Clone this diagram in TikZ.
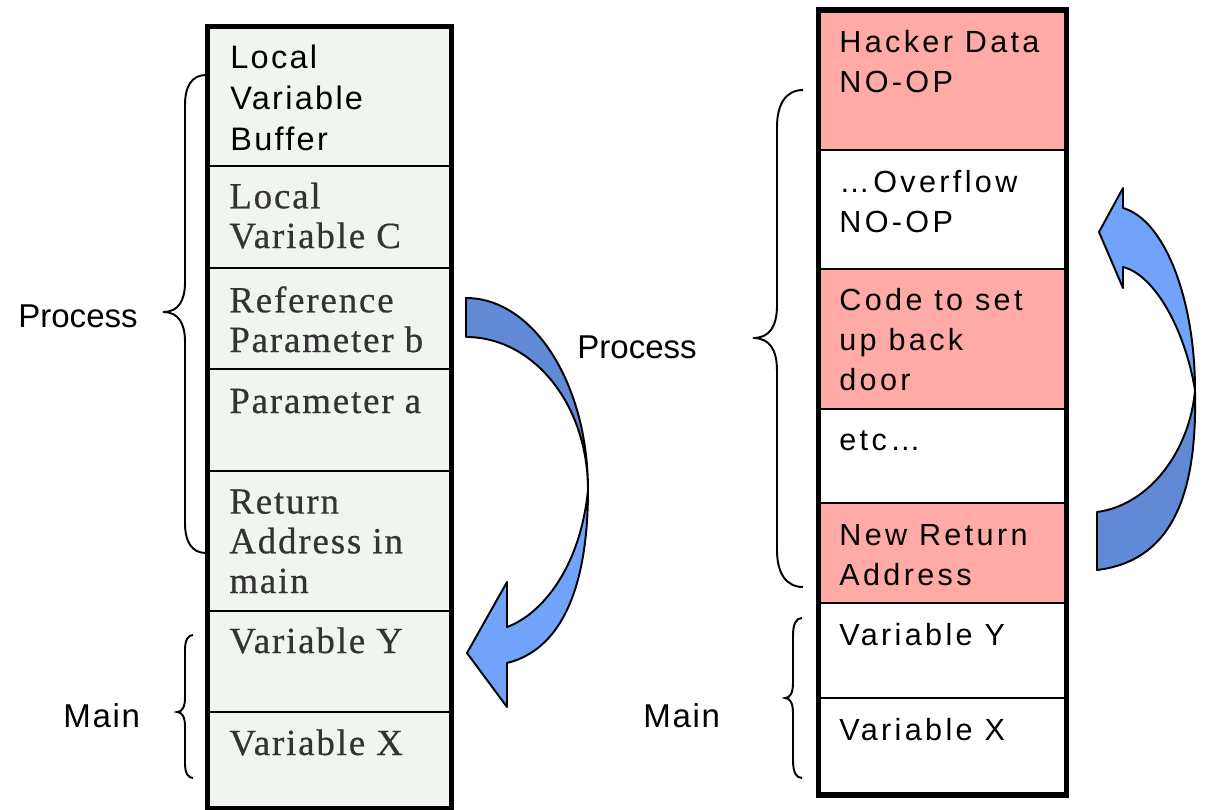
\documentclass[tikz,border=0pt]{standalone}
\usepackage{fontspec}
\setmainfont{Liberation Sans}
\newfontfamily\stacksans[LetterSpace=7]{Liberation Sans}
\newfontfamily\hacksans[LetterSpace=11]{Liberation Sans}
\newfontfamily\oldserif[LetterSpace=5,FakeBold=0.5]{Liberation Serif}
\newfontfamily\labelsans[LetterSpace=5]{Liberation Sans}
\usetikzlibrary{fit}
\definecolor{stackbg}{HTML}{F1F5EF}
\definecolor{hackpink}{HTML}{FFAAA6}
\definecolor{arrowdark}{HTML}{6189D6}
\definecolor{arrowlight}{HTML}{70A3F9}
\definecolor{serifgray}{HTML}{333333}

\begin{document}
\begin{tikzpicture}[x=0.02cm,y=-0.02cm,
  cell/.style={draw=black, line width=1.1pt, inner sep=0pt, rectangle},
  oldcell/.style={cell, fill=stackbg},
  pinkcell/.style={cell, fill=hackpink},
  whitecell/.style={cell, fill=white},
  frame/.style={draw=black, line width=2.9pt},
  brace/.style={draw=black, line width=1.1pt},
  blockarrow/.style={draw=black, line width=1.1pt, line join=round},
  % multi-line texts are placed by the baseline of their last line
  sanstxt/.style={anchor=base west, inner sep=0pt, align=left,
    font=\stacksans\fontsize{18.5}{23.3}\selectfont},
  seriftxt/.style={anchor=base west, inner sep=0pt, align=left, text=serifgray,
    font=\oldserif\fontsize{21}{22.6}\selectfont},
  hacktxt/.style={anchor=base west, inner sep=0pt, align=left,
    font=\hacksans\fontsize{17.4}{22.5}\selectfont},
  sidelabel/.style={anchor=base west, inner sep=0pt, font=\fontsize{18.8}{22}\selectfont},
  mainlabel/.style={anchor=base west, inner sep=0pt, font=\labelsans\fontsize{18.8}{22}\selectfont}
]
\useasboundingbox (0,0) rectangle (1205,809);

% ---------- normal call stack ----------
\node[oldcell, fit={(208.5,27.5) (450.5,166)}] (l1) {};
\node[oldcell, fit={(208.5,166) (450.5,268)}] (l2) {};
\node[oldcell, fit={(208.5,268) (450.5,369)}] (l3) {};
\node[oldcell, fit={(208.5,369) (450.5,471)}] (l4) {};
\node[oldcell, fit={(208.5,471) (450.5,611)}] (l5) {};
\node[oldcell, fit={(208.5,611) (450.5,712)}] (l6) {};
\node[oldcell, fit={(208.5,712) (450.5,808)}] (l7) {};
\draw[frame] (l1.north west) rectangle (l7.south east);

\node[sanstxt] (lt1) at (230,150) {Local\\Variable\\Buffer};
\node[seriftxt] (lt2) at (229,248) {Local\\Variable C};
\node[seriftxt] (lt3) at (229,352) {Reference\\Parameter b};
\node[seriftxt] (lt4) at (229,413) {Parameter a};
\node[seriftxt] (lt5) at (229,593) {Return\\Address in\\main};
\node[seriftxt] (lt6) at (229,653) {Variable Y};
\node[seriftxt] (lt7) at (229,755) {Variable X};

% braces of the normal stack
\draw[brace] (206,75) .. controls (192,75) and (185,86) .. (185,105)
  -- (185,282) .. controls (185,300) and (179,312) .. (163,312)
  .. controls (179,312) and (185,324) .. (185,342)
  -- (185,523) .. controls (185,542) and (192,553) .. (206,553);
\draw[brace] (193,635) .. controls (188,635) and (185,640) .. (185,650)
  -- (185,698) .. controls (185,707) and (182,712) .. (177,712)
  .. controls (182,712) and (185,717) .. (185,726)
  -- (185,763) .. controls (185,773) and (188,778) .. (193,778);
\node[sidelabel] (lproc) at (18,327) {Process};
\node[mainlabel] (lmain) at (63,727) {Main};

% return jump of the normal stack
\fill[arrowdark, blockarrow] (466,298) .. controls (533,298) and (588,383) .. (588,490)
  .. controls (588,404) and (533,337) .. (466,337) -- cycle;
\fill[arrowlight, blockarrow] (588,490) .. controls (588,590) and (560,650) .. (507,663)
  -- (507,707) -- (467,653) -- (507,582) -- (507,627)
  .. controls (540,615) and (580,570) .. (588,490) -- cycle;

% ---------- overflowed stack ----------
\node[pinkcell, fit={(819.5,11) (1065.5,150)}] (r1) {};
\node[whitecell, fit={(819.5,150) (1065.5,269)}] (r2) {};
\node[pinkcell, fit={(819.5,269) (1065.5,409)}] (r3) {};
\node[whitecell, fit={(819.5,409) (1065.5,503)}] (r4) {};
\node[pinkcell, fit={(819.5,503) (1065.5,603)}] (r5) {};
\node[whitecell, fit={(819.5,603) (1065.5,698)}] (r6) {};
\node[whitecell, fit={(819.5,698) (1065.5,794)}] (r7) {};
\draw[frame] (r1.north west) rectangle (r7.south east);

\node[hacktxt] (rt1) at (839,92) {Hacker Data\\NO-OP};
\node[hacktxt] (rt2) at (839,232) {\char"2026Overflow\\NO-OP};
\node[hacktxt] (rt3) at (839,390) {Code to set\\up back\\door};
\node[hacktxt] (rt4) at (839,450) {etc\char"2026};
\node[hacktxt] (rt5) at (839,585) {New Return\\Address};
\node[hacktxt] (rt6) at (839,645) {Variable Y};
\node[hacktxt] (rt7) at (839,740) {Variable X};

% braces of the overflowed stack
\draw[brace] (803,90) .. controls (786,90) and (777,104) .. (777,127)
  -- (777,305) .. controls (777,326) and (770,338) .. (753,338)
  .. controls (770,338) and (777,350) .. (777,371)
  -- (777,550) .. controls (777,573) and (786,587) .. (803,587);
\draw[brace] (802,618) .. controls (796,618) and (793,624) .. (793,636)
  -- (793,683) .. controls (793,693) and (790,698) .. (785,698)
  .. controls (790,698) and (793,703) .. (793,713)
  -- (793,760) .. controls (793,772) and (796,778) .. (802,778);
\node[sidelabel] (rproc) at (577,358) {Process};
\node[mainlabel] (rmain) at (643,727) {Main};

% hijacked return jump
\fill[arrowlight, blockarrow] (1123,208) .. controls (1165,220) and (1195,300) .. (1195,390)
  .. controls (1185,330) and (1155,275) .. (1123,267)
  -- (1123,288) -- (1099,232) -- (1123,188) -- cycle;
\fill[arrowdark, blockarrow] (1195,390) .. controls (1197,480) and (1180,560) .. (1097,570)
  -- (1097,512) .. controls (1150,505) and (1190,450) .. (1195,390) -- cycle;
\end{tikzpicture}
\end{document}
